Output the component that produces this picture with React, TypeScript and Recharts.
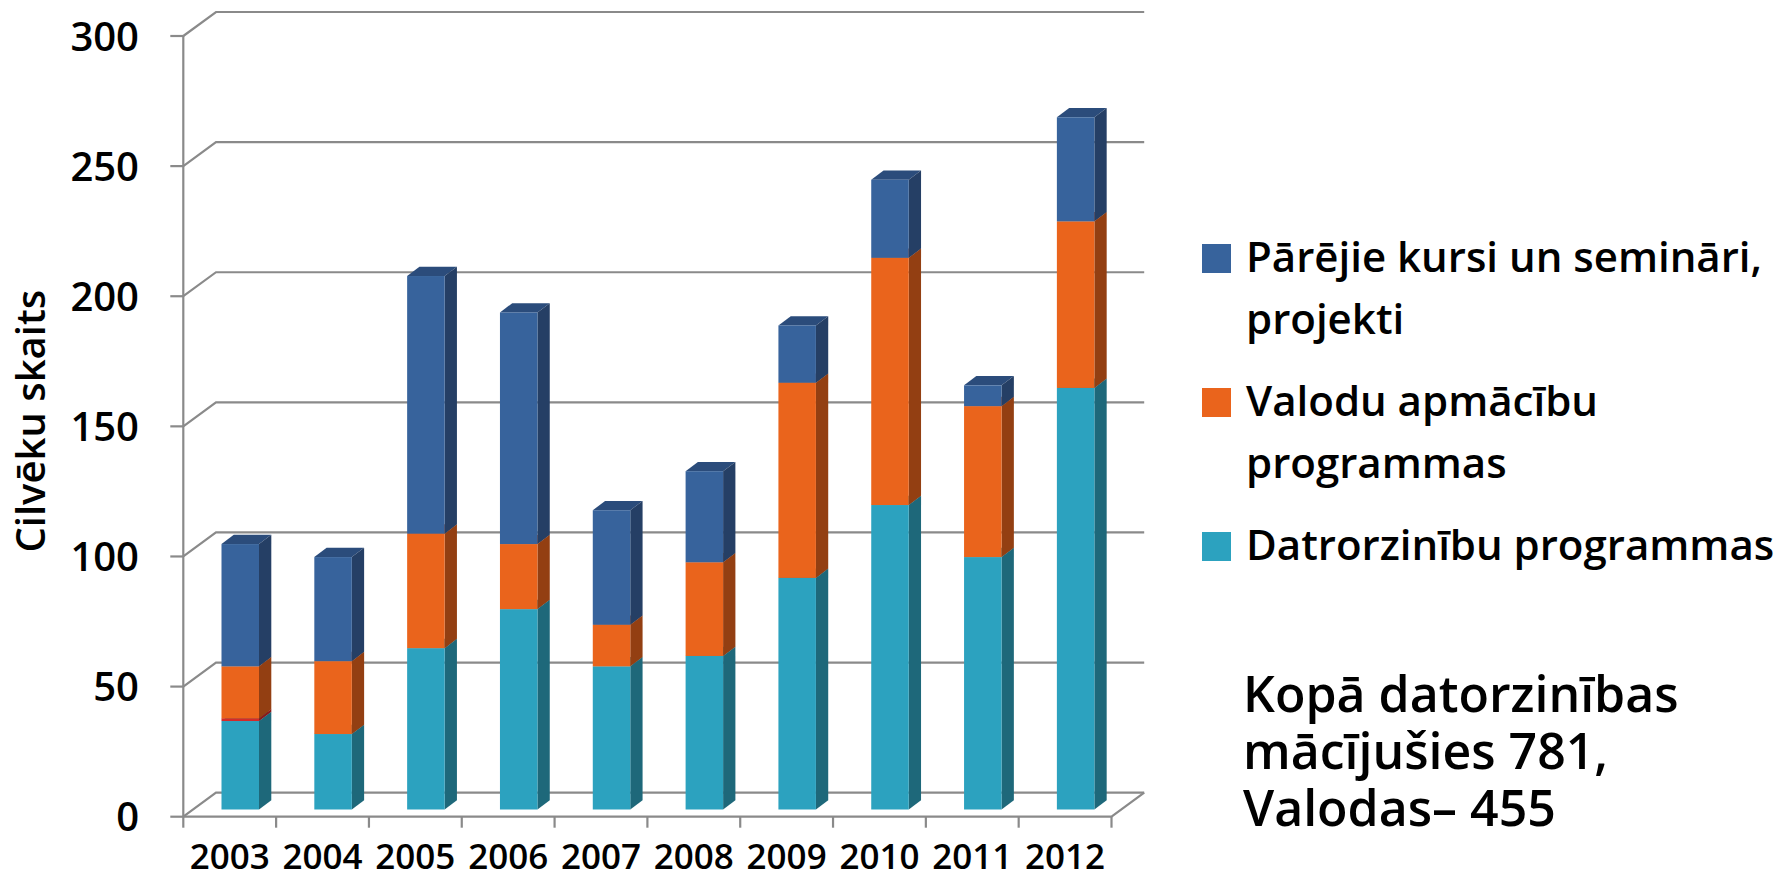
import { BarChart, Bar, XAxis, YAxis, CartesianGrid } from 'recharts';

const years = ['2003', '2004', '2005', '2006', '2007', '2008', '2009', '2010', '2011', '2012'];
const datorzinibas = [34, 29, 62, 77, 55, 59, 89, 117, 97, 162];
const sarkanie = [1, 0, 0, 0, 0, 0, 0, 0, 0, 0];
const valodas = [20, 28, 44, 25, 16, 36, 75, 95, 58, 64];
const parejie = [47, 40, 99, 89, 44, 35, 22, 30, 8, 40];
const yTicks = [0, 50, 100, 150, 200, 250, 300];

const data = years.map((year, i) => ({
  year,
  datorzinibas: datorzinibas[i],
  sarkanie: sarkanie[i],
  valodas: valodas[i],
  parejie: parejie[i],
}));

// series, bottom to top; legend shows them top to bottom
const series = [
  { key: 'datorzinibas', name: 'Datrorzinību programmas', front: '#2ca2bf', side: '#1e687a', top: '#25869e', legend: true },
  { key: 'sarkanie', name: '', front: '#d42a2a', side: '#8a1a1a', top: '#b02222', legend: false },
  { key: 'valodas', name: 'Valodu apmācību programmas', front: '#ea641c', side: '#933f12', top: '#c25216', legend: true },
  { key: 'parejie', name: 'Pārējie kursi un semināri, projekti', front: '#37639c', side: '#253f65', top: '#2b4c7b', legend: true },
];

const W = 1787;
const H = 880;
const PLOT_LEFT = 193.5;
const PLOT_RIGHT = 1121.7;
const PLOT_TOP = 28.8;
const PLOT_BOTTOM = 809.5;
const BAND = (PLOT_RIGHT - PLOT_LEFT) / years.length;

// 3d offsets relative to the plane of the bar fronts
const FRONT_DX = 10.2;
const FRONT_DY = 7.2;
const BACK_DX = 22.5;
const BACK_DY = 16.8;
const DEPTH_X = 12.3;
const DEPTH_Y = 9.3;

const GRID = '#8a8a8a';
const FONT = "'Open Sans', sans-serif";

const make3D = (front: string, side: string, top: string) => (props: any) => {
  const { x, y, width, height } = props;
  if (!height || height <= 0) return <g />;
  return (
    <g>
      <polygon
        points={`${x},${y} ${x + DEPTH_X},${y - DEPTH_Y} ${x + width + DEPTH_X},${y - DEPTH_Y} ${x + width},${y}`}
        fill={top}
      />
      <polygon
        points={`${x + width},${y} ${x + width + DEPTH_X},${y - DEPTH_Y} ${x + width + DEPTH_X},${y + height - DEPTH_Y} ${x + width},${y + height}`}
        fill={side}
      />
      <rect x={x} y={y} width={width} height={height} fill={front} />
    </g>
  );
};

const gridLine = (props: any) => {
  const { x1, x2, y1 } = props;
  const fx = x1 - FRONT_DX;
  const fy = y1 + FRONT_DY;
  const bx = x1 + BACK_DX;
  const by = y1 - BACK_DY;
  const isFloor = Math.abs(y1 - PLOT_BOTTOM) < 1;
  return (
    <g key={`g-${y1}`}>
      <polyline
        points={`${fx},${fy} ${bx},${by} ${x2 + BACK_DX},${by}`}
        fill="none"
        stroke={GRID}
        strokeWidth={2.2}
      />
      {isFloor && (
        <>
          <polyline
            points={`${fx},${fy} ${x2 - FRONT_DX},${fy} ${x2 + BACK_DX},${by}`}
            fill="none"
            stroke={GRID}
            strokeWidth={2.2}
          />
          <line x1={fx} y1={PLOT_TOP + FRONT_DY} x2={fx} y2={fy} stroke={GRID} strokeWidth={2.2} />
        </>
      )}
    </g>
  );
};

const YTick = (props: any) => {
  const { y, payload } = props;
  const fy = y + FRONT_DY;
  const ax = PLOT_LEFT - FRONT_DX;
  return (
    <g>
      <line x1={ax - 13} y1={fy} x2={ax} y2={fy} stroke={GRID} strokeWidth={2.2} />
      <text x={139} y={fy + 14.5} textAnchor="end" fontSize={40} fontWeight={600} fontFamily={FONT} fill="#000">
        {payload.value}
      </text>
    </g>
  );
};

const XTick = (props: any) => {
  const { x, payload, index } = props;
  const cx = x - FRONT_DX;
  const floorY = PLOT_BOTTOM + FRONT_DY;
  const left = cx - BAND / 2;
  const right = cx + BAND / 2;
  return (
    <g>
      <line x1={left} y1={floorY} x2={left} y2={floorY + 11} stroke={GRID} strokeWidth={2.2} />
      {index === years.length - 1 && (
        <line x1={right} y1={floorY} x2={right} y2={floorY + 11} stroke={GRID} strokeWidth={2.2} />
      )}
      <text x={cx} y={869} textAnchor="middle" fontSize={35} fontWeight={600} fontFamily={FONT} fill="#000">
        {payload.value}
      </text>
    </g>
  );
};

const YTitle = (props: any) => {
  const { viewBox } = props;
  const cy = viewBox.y + viewBox.height / 2 + 2;
  return (
    <text
      x={30}
      y={cy}
      transform={`rotate(-90, 30, ${cy})`}
      textAnchor="middle"
      dominantBaseline="central"
      fontSize={40}
      fontWeight={600}
      fontFamily={FONT}
      fill="#000"
    >
      Cilvēku skaits
    </text>
  );
};

export default function App() {
  const legendItems = series.filter((s) => s.legend).reverse();
  return (
    <div style={{ position: 'relative', width: W, height: H, background: '#fff', fontFamily: FONT, fontWeight: 600 }}>
      <style>{'body{margin:0;background:#fff}'}</style>
      <BarChart
        width={W}
        height={H}
        data={data}
        margin={{ top: PLOT_TOP, right: W - PLOT_RIGHT, bottom: 0, left: 0 }}
      >
        <CartesianGrid vertical={false} horizontal={gridLine} />
        <XAxis
          dataKey="year"
          height={H - PLOT_BOTTOM}
          axisLine={false}
          tickLine={false}
          interval={0}
          tick={<XTick />}
        />
        <YAxis
          width={PLOT_LEFT}
          domain={[0, 300]}
          ticks={yTicks}
          axisLine={false}
          tickLine={false}
          tick={<YTick />}
          label={{ content: <YTitle /> }}
        />
        {series.map((s) => (
          <Bar
            key={s.key}
            dataKey={s.key}
            name={s.name}
            stackId="a"
            barSize={37.5}
            isAnimationActive={false}
            shape={make3D(s.front, s.side, s.top)}
          />
        ))}
      </BarChart>

      {/* legend */}
      <div style={{ position: 'absolute', left: 1202, top: 225 }}>
        {legendItems.map((s) => (
          <div key={s.key} style={{ display: 'flex', alignItems: 'flex-start', marginBottom: 20 }}>
            <div style={{ width: 29, height: 29, background: s.front, marginTop: 19, flexShrink: 0 }} />
            <div style={{ marginLeft: 15, width: 540, fontSize: 42, lineHeight: '62px', color: '#000' }}>
              {s.name}
            </div>
          </div>
        ))}
      </div>

      <div
        style={{
          position: 'absolute',
          left: 1243,
          top: 665,
          fontSize: 50,
          lineHeight: '57px',
          color: '#000',
        }}
      >
        Kopā datorzinības
        <br />
        mācījušies 781,
        <br />
        Valodas– 455
      </div>
    </div>
  );
}
